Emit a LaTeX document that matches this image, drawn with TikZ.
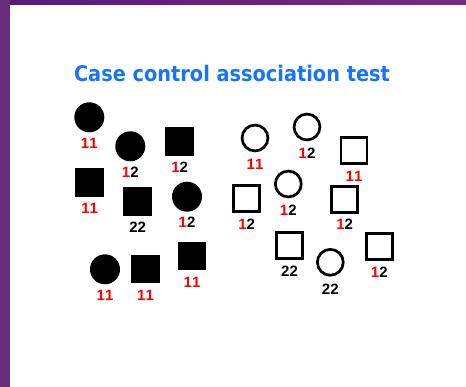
\documentclass[tikz,border=0pt]{standalone}
\usepackage{fontspec}
\setmainfont{Liberation Sans}
\newfontfamily\titlefont{DejaVu Sans Condensed}
\definecolor{barleft}{RGB}{88,26,120}
\definecolor{barright}{RGB}{123,40,132}
\definecolor{stripcol}{RGB}{104,44,122}
\definecolor{titleblue}{RGB}{22,116,252}
\newcommand{\aone}{\textcolor{red}{1}}
\newcommand{\atwo}{\textcolor{black}{2}}
\tikzset{
  casecirc/.style={circle, fill=black, minimum size=30pt, inner sep=0pt},
  casesq/.style={rectangle, fill=black, minimum size=28.5pt, inner sep=0pt},
  ctrlcirc/.style={circle, draw=black, line width=2.7pt, minimum size=25.9pt, inner sep=0pt},
  ctrlsq/.style={rectangle, draw=black, line width=2.7pt, minimum size=25.8pt, inner sep=0pt},
  geno/.style={inner sep=0pt, font=\bfseries\fontsize{15}{15}\selectfont},
  titletext/.style={inner sep=0pt, anchor=base, text=titleblue,
    font=\titlefont\bfseries\fontsize{21.5}{24}\selectfont}
}
\begin{document}
\begin{tikzpicture}[x=1pt, y=-1pt]
\useasboundingbox (0,0) rectangle (466,387);
% slide background and frame
\fill[white] (0,0) rectangle (466,387);
\shade[left color=barleft, right color=barright] (0,0) rectangle (466,5);
\fill[stripcol] (0,0) rectangle (10,387);

\node[titletext] (title) at (232,81.7) {Case control association test};

% cases (filled symbols)
\node[casecirc] (c1) at (89.3,117.3) {};
\node[casecirc] (c2) at (130.3,146.3) {};
\node[casesq]   (c3) at (179.7,141.5) {};
\node[casesq]   (c4) at (89.7,182.5) {};
\node[casesq]   (c5) at (137.7,201.5) {};
\node[casecirc] (c6) at (187,196.7) {};
\node[casecirc] (c7) at (105,269.3) {};
\node[casesq]   (c8) at (145.5,269.2) {};
\node[casesq]   (c9) at (192,256) {};

\node[geno] (g1) at ([yshift=-26pt]c1.center) {\aone\aone};
\node[geno] (g2) at ([yshift=-26pt]c2.center) {\aone\atwo};
\node[geno] (g3) at ([yshift=-26pt]c3.center) {\aone\atwo};
\node[geno] (g4) at ([yshift=-26pt]c4.center) {\aone\aone};
\node[geno] (g5) at ([yshift=-26pt]c5.center) {\atwo\atwo};
\node[geno] (g6) at ([yshift=-26pt]c6.center) {\aone\atwo};
\node[geno] (g7) at ([yshift=-26.5pt]c7.center) {\aone\aone};
\node[geno] (g8) at ([yshift=-26.5pt]c8.center) {\aone\aone};
\node[geno] (g9) at ([yshift=-26pt]c9.center) {\aone\aone};

% controls (open symbols)
\node[ctrlcirc] (k1) at (255,138) {};
\node[ctrlcirc] (k2) at (307,127) {};
\node[ctrlsq]   (k3) at (354,150.3) {};
\node[ctrlsq]   (k4) at (246.7,198.5) {};
\node[ctrlcirc] (k5) at (288.3,184) {};
\node[ctrlsq]   (k6) at (344.7,199.3) {};
\node[ctrlsq]   (k7) at (289.5,245.5) {};
\node[ctrlcirc] (k8) at (330.3,262.3) {};
\node[ctrlsq]   (k9) at (379.3,246.3) {};

\node[geno] (h1) at ([yshift=-26pt]k1.center) {\aone\aone};
\node[geno] (h2) at ([yshift=-26pt]k2.center) {\aone\atwo};
\node[geno] (h3) at ([yshift=-26pt]k3.center) {\aone\aone};
\node[geno] (h4) at ([yshift=-26pt]k4.center) {\aone\atwo};
\node[geno] (h5) at ([yshift=-26pt]k5.center) {\aone\atwo};
\node[geno] (h6) at ([yshift=-25pt]k6.center) {\aone\atwo};
\node[geno] (h7) at ([yshift=-26pt]k7.center) {\atwo\atwo};
\node[geno] (h8) at ([yshift=-26.5pt]k8.center) {\atwo\atwo};
\node[geno] (h9) at ([yshift=-25.5pt]k9.center) {\aone\atwo};
\end{tikzpicture}
\end{document}
